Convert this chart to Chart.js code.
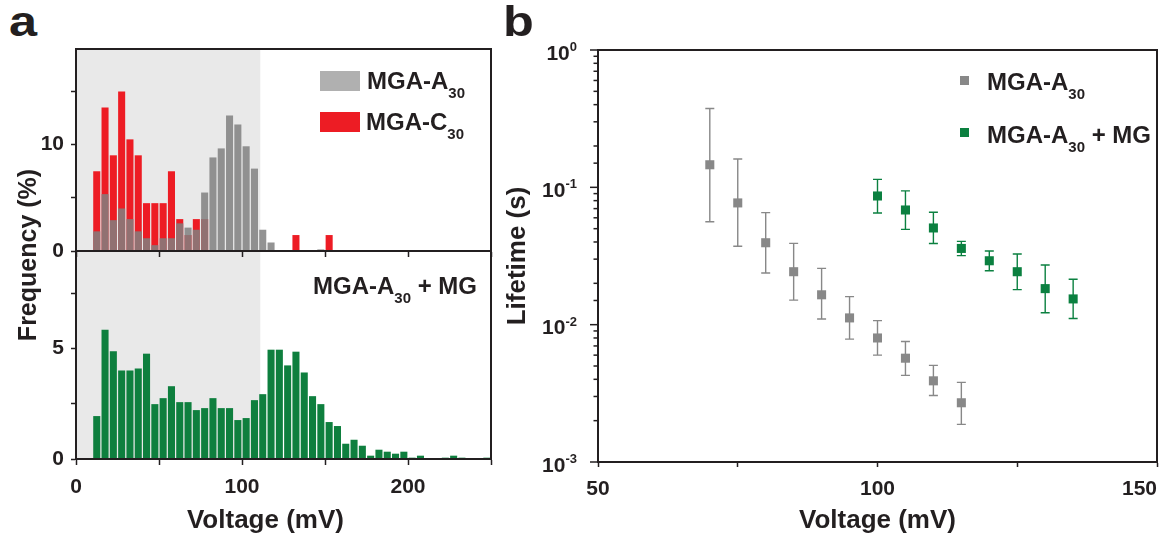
<!DOCTYPE html>
<html>
<head>
<meta charset="utf-8">
<script src="https://cdn.jsdelivr.net/npm/chart.js@4.4.0/dist/chart.umd.min.js"></script>
<style>
  body { margin:0; background:#fff; width:1165px; height:536px; position:relative; overflow:hidden;
         font-family:'Liberation Sans', Arial, sans-serif; font-weight:bold; color:#231F20; }
  .box { position:absolute; }
  .lbl { position:absolute; font-size:24px; line-height:24px; height:24px; white-space:nowrap; }
  .lbl sub { font-size:15px; vertical-align:-9px; line-height:1; }
  .patch { position:absolute; }
  .panel { position:absolute; font-size:42px; line-height:42px; transform:scaleX(1.2); transform-origin:left top; }
</style>
</head>
<body>
<div class="box" style="left:0;top:200px;width:500px;height:336px"><canvas id="bottomHist"></canvas></div>
<div class="box" style="left:0;top:0;width:500px;height:260px;z-index:2"><canvas id="topHist"></canvas></div>
<div class="box" style="left:500px;top:0;width:665px;height:536px"><canvas id="lifetime"></canvas></div>

<div class="panel" style="left:9px;top:1px">a</div>
<div class="panel" style="left:503px;top:1px">b</div>
<div class="lbl" style="left:-123px;top:240px;width:300px;height:30px;line-height:30px;font-size:25px;text-align:center;transform:rotate(-90deg);z-index:3">Frequency (%)</div>

<div class="patch" style="left:320px;top:71px;width:40px;height:20px;background:#B0B0B0;z-index:3"></div>
<div class="lbl" style="left:367px;top:69px;z-index:3">MGA-A<sub>30</sub></div>
<div class="patch" style="left:320px;top:112px;width:40px;height:20px;background:#ED1C24;z-index:3"></div>
<div class="lbl" style="left:366px;top:110px;z-index:3">MGA-C<sub>30</sub></div>
<div class="lbl" style="left:313px;top:274px;z-index:3">MGA-A<sub>30</sub> + MG</div>

<div class="patch" style="left:960px;top:76px;width:9px;height:9px;background:#888888"></div>
<div class="lbl" style="left:987px;top:70px">MGA-A<sub>30</sub></div>
<div class="patch" style="left:960px;top:128px;width:9px;height:9px;background:#0B8040"></div>
<div class="lbl" style="left:987px;top:123px">MGA-A<sub>30</sub> + MG</div>

<script>
// ---- histogram data (bin centres in mV, frequency in %) ----
const voltageBins = [12.5, 17.5, 22.5, 27.5, 32.5, 37.5, 42.5, 47.5, 52.5, 57.5,
  62.5, 67.5, 72.5, 77.5, 82.5, 87.5, 92.5, 97.5, 102.5, 107.5,
  112.5, 117.5, 122.5, 127.5, 132.5, 137.5, 142.5, 147.5, 152.5, 157.5,
  162.5, 167.5, 172.5, 177.5, 182.5, 187.5, 192.5, 197.5, 202.5, 207.5,
  212.5, 217.5, 222.5, 227.5, 232.5, 237.5, 242.5, 247.5];
const freqA30 = [1.85, 5.35, 2.9, 4.0, 3.0, 1.85, 1.2, 0.55, 1.2, 1.2,
  2.6, 2.2, 2.0, 5.5, 8.8, 9.65, 12.75, 11.9, 9.85, 7.75,
  2.0, 0.8, 0, 0, 0, 0, 0, 0.15, 0, 0,
  0, 0, 0, 0, 0, 0, 0, 0, 0, 0,
  0, 0, 0, 0, 0, 0, 0, 0];
const freqC30 = [7.5, 13.5, 9.0, 15.0, 10.5, 9.0, 4.5, 4.5, 4.5, 7.5,
  3.0, 1.5, 3.0, 3.0, 0, 0, 0, 0, 0, 0,
  0, 0, 0, 0, 1.5, 0, 0, 0, 1.5, 0,
  0, 0, 0, 0, 0, 0, 0, 0, 0, 0,
  0, 0, 0, 0, 0, 0, 0, 0];
const freqA30MG = [1.94, 5.84, 4.87, 4.0, 4.0, 4.09, 4.76, 2.48, 2.75, 3.29,
  2.57, 2.57, 2.21, 2.30, 2.75, 2.30, 2.30, 1.76, 1.85, 2.66,
  2.93, 4.94, 4.94, 4.23, 4.85, 3.91, 2.84, 2.48, 1.67, 1.49,
  0.69, 0.87, 0.6, 0.15, 0.42, 0.33, 0.24, 0.33, 0.06, 0.15,
  0, 0, 0.06, 0.15, 0.06, 0, 0, 0.06];
const shadeRange = [0, 111];

// ---- lifetime data (voltage in mV, lifetime in s) ----
const grayVoltage = [70, 75, 80, 85, 90, 95, 100, 105, 110, 115];
const grayLifetime = [0.146, 0.077, 0.0395, 0.0243, 0.0165, 0.0112, 0.0080, 0.0057, 0.0039, 0.0027];
const grayHigh = [0.375, 0.161, 0.0654, 0.0391, 0.0257, 0.016, 0.0107, 0.00755, 0.00505, 0.0038];
const grayLow = [0.0562, 0.0372, 0.0238, 0.0151, 0.011, 0.00785, 0.006, 0.00427, 0.00305, 0.00188];
const greenVoltage = [100, 105, 110, 115, 120, 125, 130, 135];
const greenLifetime = [0.0865, 0.0684, 0.0506, 0.0359, 0.0292, 0.0243, 0.0183, 0.0154];
const greenHigh = [0.1143, 0.0942, 0.0658, 0.0404, 0.0344, 0.0327, 0.0272, 0.0214];
const greenLow = [0.065, 0.0494, 0.039, 0.0318, 0.0247, 0.018, 0.0122, 0.0111];

const ink = '#231F20';
const fontFamily = "'Liberation Sans', Arial, sans-serif";
Chart.defaults.font.family = fontFamily;
Chart.defaults.font.weight = 'bold';
Chart.defaults.font.size = 21;
Chart.defaults.color = ink;

const shade = {
  id: 'shade',
  beforeDatasetsDraw(chart) {
    const {ctx, chartArea: a, scales: {x}} = chart;
    const x0 = Math.max(a.left, x.getPixelForValue(shadeRange[0]));
    const x1 = x.getPixelForValue(shadeRange[1]);
    ctx.save();
    ctx.fillStyle = '#E9E9E9';
    ctx.fillRect(x0, a.top, x1 - x0, a.bottom - a.top);
    ctx.restore();
  }
};

const frame = {
  id: 'frame',
  afterDraw(chart) {
    const {ctx, chartArea: a} = chart;
    ctx.save();
    ctx.strokeStyle = ink;
    ctx.lineWidth = 2;
    ctx.strokeRect(a.left, a.top, a.right - a.left, a.bottom - a.top);
    ctx.restore();
  }
};

const errorBars = {
  id: 'errorBars',
  beforeDatasetsDraw(chart) {
    const {ctx, scales: {x, y}} = chart;
    chart.data.datasets.forEach(ds => {
      ctx.save();
      ctx.strokeStyle = ds.backgroundColor;
      ctx.lineWidth = 1.4;
      ds.data.forEach((p, j) => {
        const px = x.getPixelForValue(p.x);
        const hi = y.getPixelForValue(ds.errHigh[j]);
        const lo = y.getPixelForValue(ds.errLow[j]);
        ctx.beginPath();
        ctx.moveTo(px, hi); ctx.lineTo(px, lo);
        ctx.moveTo(px - 4.5, hi); ctx.lineTo(px + 4.5, hi);
        ctx.moveTo(px - 4.5, lo); ctx.lineTo(px + 4.5, lo);
        ctx.stroke();
      });
      ctx.restore();
    });
  }
};

// log axis: short minor ticks, longer decade ticks with 10^n labels
const logAxis = {
  id: 'logAxis',
  afterDraw(chart) {
    const {ctx} = chart;
    const y = chart.scales.y;
    ctx.save();
    ctx.strokeStyle = ink;
    ctx.lineWidth = 1.5;
    y.ticks.forEach(t => {
      const p = y.getPixelForValue(t.value);
      const e = Math.log10(t.value);
      const major = Math.abs(e - Math.round(e)) < 1e-6;
      const len = major ? 8 : 4.5;
      ctx.beginPath();
      ctx.moveTo(y.right - len, p);
      ctx.lineTo(y.right, p);
      ctx.stroke();
      if (major) {
        const right = y.right - 21;
        const sup = String(Math.round(e));
        ctx.fillStyle = ink;
        ctx.textBaseline = 'alphabetic';
        ctx.font = 'bold 13px ' + fontFamily;
        const sw = ctx.measureText(sup).width;
        ctx.textAlign = 'left';
        ctx.fillText(sup, right - sw, p + 1);
        ctx.font = 'bold 21px ' + fontFamily;
        ctx.textAlign = 'right';
        ctx.fillText('10', right - sw, p + 9.5);
      }
    });
    ctx.restore();
  }
};

const tickGrid = { drawOnChartArea: false, offset: false, tickLength: 5, tickWidth: 1.5, tickColor: ink };
const axisBorder = { width: 2, color: ink };
const toPoints = (xs, ys) => xs.map((x, i) => ({x: x, y: ys[i]}));
// keep the plot areas fixed: no extra room for overhanging tick labels
const fixX = h => s => { s.height = h; s.paddingLeft = 0; s.paddingRight = 0; };
const fixY = w => s => { s.width = w; s.paddingTop = 0; s.paddingBottom = 0; };

new Chart(document.getElementById('topHist'), {
  type: 'bar',
  data: {
    datasets: [
      { label: 'MGA-A30', data: toPoints(voltageBins, freqA30), backgroundColor: 'rgba(128,128,128,0.85)', order: 0 },
      { label: 'MGA-C30', data: toPoints(voltageBins, freqC30), backgroundColor: '#ED1C24', order: 1 }
    ]
  },
  options: {
    responsive: true, maintainAspectRatio: false, animation: false,
    layout: { padding: { top: 49, right: 9, left: 0, bottom: 0 } },
    datasets: { bar: { grouped: false, categoryPercentage: 1, barPercentage: 0.85 } },
    plugins: { legend: { display: false }, tooltip: { enabled: false } },
    scales: {
      x: {
        type: 'linear', min: 0, max: 250, offset: false,
        ticks: { display: false, stepSize: 50 },
        grid: Object.assign({}, tickGrid, { tickLength: 6 }),
        border: axisBorder,
        afterFit: fixX(9)
      },
      y: {
        min: 0, max: 19,
        ticks: { stepSize: 5, padding: 7, callback: v => (v % 10 === 0 ? v : '') },
        afterBuildTicks: s => { s.ticks = s.ticks.filter(t => t.value % 5 === 0); },
        grid: tickGrid,
        border: axisBorder,
        afterFit: fixY(76)
      }
    }
  },
  plugins: [shade, frame]
});

new Chart(document.getElementById('bottomHist'), {
  type: 'bar',
  data: {
    datasets: [
      { label: 'MGA-A30 + MG', data: toPoints(voltageBins, freqA30MG), backgroundColor: '#0E7F3E' }
    ]
  },
  options: {
    responsive: true, maintainAspectRatio: false, animation: false,
    layout: { padding: { top: 51, right: 9, left: 0, bottom: 0 } },
    datasets: { bar: { categoryPercentage: 1, barPercentage: 0.85 } },
    plugins: { legend: { display: false }, tooltip: { enabled: false } },
    scales: {
      x: {
        type: 'linear', min: 0, max: 250, offset: false,
        ticks: { stepSize: 50, padding: 10, maxRotation: 0, callback: v => (v % 100 === 0 ? v : '') },
        grid: Object.assign({}, tickGrid, { tickLength: 6 }),
        border: axisBorder,
        title: { display: true, text: 'Voltage (mV)     ', font: { size: 26 }, padding: { top: 0, bottom: 0 } },
        afterFit: fixX(77)
      },
      y: {
        min: 0, max: 9.4,
        ticks: { stepSize: 2.5, padding: 7, callback: v => (v % 5 === 0 ? v : '') },
        afterBuildTicks: s => { s.ticks = s.ticks.filter(t => Math.abs(t.value / 2.5 - Math.round(t.value / 2.5)) < 1e-6); },
        grid: tickGrid,
        border: axisBorder,
        afterFit: fixY(76)
      }
    }
  },
  plugins: [shade, frame]
});

new Chart(document.getElementById('lifetime'), {
  type: 'scatter',
  data: {
    datasets: [
      { label: 'MGA-A30', data: toPoints(grayVoltage, grayLifetime), errHigh: grayHigh, errLow: grayLow,
        backgroundColor: '#888888', borderWidth: 0, pointStyle: 'rect', pointRadius: 6.4 },
      { label: 'MGA-A30 + MG', data: toPoints(greenVoltage, greenLifetime), errHigh: greenHigh, errLow: greenLow,
        backgroundColor: '#0B8040', borderWidth: 0, pointStyle: 'rect', pointRadius: 6.4 }
    ]
  },
  options: {
    responsive: true, maintainAspectRatio: false, animation: false,
    layout: { padding: { top: 50, right: 8, left: 0, bottom: 0 } },
    plugins: { legend: { display: false }, tooltip: { enabled: false } },
    scales: {
      x: {
        type: 'linear', min: 50, max: 150,
        ticks: {
          stepSize: 25, padding: 10, maxRotation: 0,
          // last label sits at the right edge of the page, nudge it inward
          callback: v => (v === 150 ? '150      ' : (v % 50 === 0 ? v : ''))
        },
        grid: tickGrid,
        border: axisBorder,
        title: { display: true, text: 'Voltage (mV)', font: { size: 26 }, padding: { top: 0, bottom: 0 } },
        afterFit: fixX(74)
      },
      y: {
        type: 'logarithmic', min: 0.001, max: 1,
        ticks: { display: false },
        grid: { display: false },
        border: axisBorder,
        title: { display: true, text: 'Lifetime (s)', font: { size: 26 }, padding: { top: 2, bottom: 0 } },
        afterFit: fixY(98)
      }
    }
  },
  plugins: [errorBars, frame, logAxis]
});
</script>
</body>
</html>
